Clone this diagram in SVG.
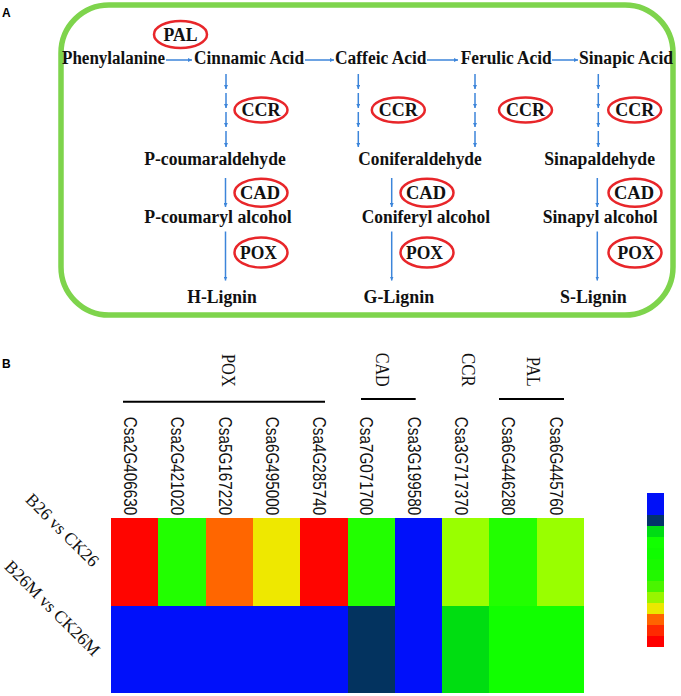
<svg xmlns="http://www.w3.org/2000/svg" width="681" height="696" viewBox="0 0 681 696">
<defs>
<marker id="ah" viewBox="0 0 6 6" refX="6" refY="3" markerWidth="4" markerHeight="4" markerUnits="userSpaceOnUse" orient="auto">
<path d="M0,0 L6,3 L0,6 z" fill="#3C85DA"/>
</marker>
<style>
.t{font-family:"Liberation Serif","Times New Roman",serif;font-weight:bold;font-size:18.5px;fill:#111}
.m{text-anchor:middle}
.e{fill:none;stroke:#E8262A;stroke-width:2.5}
.a{stroke:#3C85DA;stroke-width:1.5;fill:none;marker-end:url(#ah)}
.lab{font-family:"Liberation Sans",Arial,sans-serif;font-weight:bold;font-size:12px;fill:#000}
.gene{font-family:"Liberation Sans",Arial,sans-serif;font-size:18px;fill:#111}
.grp{font-family:"Liberation Serif","Times New Roman",serif;font-size:18.5px;fill:#111;text-anchor:end}
.row{font-family:"Liberation Serif","Times New Roman",serif;font-size:17.5px;fill:#111;text-anchor:end}
.gl{stroke:#000;stroke-width:2}
</style>
</defs>
<rect width="681" height="696" fill="#fff"/>

<!-- Panel A -->
<text class="lab" x="2" y="17">A</text>
<rect x="61" y="5" width="612" height="310" rx="48" ry="48" fill="none" stroke="#7ED44C" stroke-width="5.5"/>

<g id="connectors-A">
<line class="a" x1="166" y1="60" x2="192" y2="60"/>
<line class="a" x1="305" y1="60" x2="334" y2="60"/>
<line class="a" x1="427" y1="60" x2="458" y2="60"/>
<line class="a" x1="552" y1="60" x2="578" y2="60"/>
<g id="ccr-arrows">
<line class="a" x1="226" y1="74" x2="226" y2="89"/><line class="a" x1="226" y1="93" x2="226" y2="108"/><line class="a" x1="226" y1="112" x2="226" y2="127"/><line class="a" x1="226" y1="131" x2="226" y2="147"/>
<line class="a" x1="358.3" y1="74" x2="358.3" y2="89"/><line class="a" x1="358.3" y1="93" x2="358.3" y2="108"/><line class="a" x1="358.3" y1="112" x2="358.3" y2="127"/><line class="a" x1="358.3" y1="131" x2="358.3" y2="147"/>
<line class="a" x1="475" y1="74" x2="475" y2="89"/><line class="a" x1="475" y1="93" x2="475" y2="108"/><line class="a" x1="475" y1="112" x2="475" y2="127"/><line class="a" x1="475" y1="131" x2="475" y2="147"/>
<line class="a" x1="598.3" y1="74" x2="598.3" y2="89"/><line class="a" x1="598.3" y1="93" x2="598.3" y2="108"/><line class="a" x1="598.3" y1="112" x2="598.3" y2="127"/><line class="a" x1="598.3" y1="131" x2="598.3" y2="147"/>
</g>
<line class="a" x1="225.5" y1="178" x2="225.5" y2="207"/>
<line class="a" x1="391.7" y1="178" x2="391.7" y2="207"/>
<line class="a" x1="597.3" y1="178" x2="597.3" y2="207"/>
<line class="a" x1="225.5" y1="231.5" x2="225.5" y2="280.5"/>
<line class="a" x1="391.7" y1="231.5" x2="391.7" y2="280.5"/>
<line class="a" x1="597.3" y1="231.5" x2="597.3" y2="280.5"/>
</g>

<g id="n-phenylalanine"><text class="t" x="62" y="64" textLength="103" lengthAdjust="spacingAndGlyphs">Phenylalanine</text></g>
<g id="n-cinnamic"><text class="t" x="194" y="64" textLength="110" lengthAdjust="spacingAndGlyphs">Cinnamic Acid</text></g>
<g id="n-caffeic"><text class="t" x="335" y="64" textLength="91.5" lengthAdjust="spacingAndGlyphs">Caffeic Acid</text></g>
<g id="n-ferulic"><text class="t" x="460.7" y="64" textLength="91" lengthAdjust="spacingAndGlyphs">Ferulic Acid</text></g>
<g id="n-sinapic"><text class="t" x="579" y="64" textLength="94" lengthAdjust="spacingAndGlyphs">Sinapic Acid</text></g>

<g id="n-pcoumaraldehyde"><text class="t" x="144.3" y="164.5" textLength="141.4" lengthAdjust="spacingAndGlyphs">P-coumaraldehyde</text></g>
<g id="n-coniferaldehyde"><text class="t" x="358.3" y="164.5" textLength="123.4" lengthAdjust="spacingAndGlyphs">Coniferaldehyde</text></g>
<g id="n-sinapaldehyde"><text class="t" x="544.3" y="164.5" textLength="110.7" lengthAdjust="spacingAndGlyphs">Sinapaldehyde</text></g>

<g id="n-pcoumarylalcohol"><text class="t" x="144.3" y="223.3" textLength="147.4" lengthAdjust="spacingAndGlyphs">P-coumaryl alcohol</text></g>
<g id="n-coniferylalcohol"><text class="t" x="361.7" y="223.3" textLength="128.3" lengthAdjust="spacingAndGlyphs">Coniferyl alcohol</text></g>
<g id="n-sinapylalcohol"><text class="t" x="542.7" y="223.3" textLength="115" lengthAdjust="spacingAndGlyphs">Sinapyl alcohol</text></g>

<g id="n-hlignin"><text class="t" x="187.3" y="302.7" textLength="69.4" lengthAdjust="spacingAndGlyphs">H-Lignin</text></g>
<g id="n-glignin"><text class="t" x="363.5" y="302.7" textLength="70.6" lengthAdjust="spacingAndGlyphs">G-Lignin</text></g>
<g id="n-slignin"><text class="t" x="560" y="302.7" textLength="66.7" lengthAdjust="spacingAndGlyphs">S-Lignin</text></g>

<g id="enz-pal"><ellipse class="e" cx="180.5" cy="34.5" rx="26.5" ry="13.5"/><text class="t m" x="180.5" y="40.7" textLength="34" lengthAdjust="spacingAndGlyphs">PAL</text></g>
<g id="enz-ccr1"><ellipse class="e" cx="261" cy="110" rx="26.5" ry="12.5"/><text class="t m" x="261" y="116.2" textLength="39" lengthAdjust="spacingAndGlyphs">CCR</text></g>
<g id="enz-ccr2"><ellipse class="e" cx="398.3" cy="110" rx="26.5" ry="12.5"/><text class="t m" x="398.3" y="116.2" textLength="39" lengthAdjust="spacingAndGlyphs">CCR</text></g>
<g id="enz-ccr3"><ellipse class="e" cx="525.5" cy="110" rx="26.5" ry="12.5"/><text class="t m" x="525.5" y="116.2" textLength="39" lengthAdjust="spacingAndGlyphs">CCR</text></g>
<g id="enz-ccr4"><ellipse class="e" cx="634.7" cy="110" rx="26.5" ry="12.5"/><text class="t m" x="634.7" y="116.2" textLength="39" lengthAdjust="spacingAndGlyphs">CCR</text></g>
<g id="enz-cad1"><ellipse class="e" cx="261" cy="192.7" rx="26.5" ry="14"/><text class="t m" x="260" y="198.9" textLength="40" lengthAdjust="spacingAndGlyphs">CAD</text></g>
<g id="enz-cad2"><ellipse class="e" cx="427" cy="192.7" rx="26.5" ry="14"/><text class="t m" x="426" y="198.9" textLength="40" lengthAdjust="spacingAndGlyphs">CAD</text></g>
<g id="enz-cad3"><ellipse class="e" cx="635" cy="192.7" rx="26.5" ry="14"/><text class="t m" x="634" y="198.9" textLength="40" lengthAdjust="spacingAndGlyphs">CAD</text></g>
<g id="enz-pox1"><ellipse class="e" cx="261" cy="252.5" rx="26.5" ry="15"/><text class="t m" x="258.5" y="258.7" textLength="37" lengthAdjust="spacingAndGlyphs">POX</text></g>
<g id="enz-pox2"><ellipse class="e" cx="427" cy="252.5" rx="26.5" ry="15"/><text class="t m" x="424.5" y="258.7" textLength="37" lengthAdjust="spacingAndGlyphs">POX</text></g>
<g id="enz-pox3"><ellipse class="e" cx="635" cy="252.5" rx="26.5" ry="15"/><text class="t m" x="636" y="258.7" textLength="37" lengthAdjust="spacingAndGlyphs">POX</text></g>

<!-- Panel B -->
<text class="lab" x="2" y="368">B</text>

<g id="group-labels">
<text class="grp" transform="translate(222.2,386.7) rotate(90)" textLength="32.7" lengthAdjust="spacingAndGlyphs">POX</text>
<text class="grp" transform="translate(375.5,386.7) rotate(90)" textLength="34" lengthAdjust="spacingAndGlyphs">CAD</text>
<text class="grp" transform="translate(461.5,386.7) rotate(90)" textLength="33.7" lengthAdjust="spacingAndGlyphs">CCR</text>
<text class="grp" transform="translate(527,386.7) rotate(90)" textLength="30" lengthAdjust="spacingAndGlyphs">PAL</text>
<line class="gl" x1="123" y1="401.7" x2="325" y2="401.7"/>
<line class="gl" x1="361" y1="399" x2="415.7" y2="399"/>
<line class="gl" x1="499" y1="399" x2="564" y2="399"/>
</g>

<g id="gene-labels">
<text class="gene" transform="translate(123.9,416.8) rotate(90)" textLength="98.5" lengthAdjust="spacingAndGlyphs">Csa2G406630</text>
<text class="gene" transform="translate(171.2,416.8) rotate(90)" textLength="98.5" lengthAdjust="spacingAndGlyphs">Csa2G421020</text>
<text class="gene" transform="translate(218.5,416.8) rotate(90)" textLength="98.5" lengthAdjust="spacingAndGlyphs">Csa5G167220</text>
<text class="gene" transform="translate(265.8,416.8) rotate(90)" textLength="98.5" lengthAdjust="spacingAndGlyphs">Csa6G495000</text>
<text class="gene" transform="translate(313.1,416.8) rotate(90)" textLength="98.5" lengthAdjust="spacingAndGlyphs">Csa4G285740</text>
<text class="gene" transform="translate(360.4,416.8) rotate(90)" textLength="98.5" lengthAdjust="spacingAndGlyphs">Csa7G071700</text>
<text class="gene" transform="translate(407.7,416.8) rotate(90)" textLength="98.5" lengthAdjust="spacingAndGlyphs">Csa3G199580</text>
<text class="gene" transform="translate(455,416.8) rotate(90)" textLength="98.5" lengthAdjust="spacingAndGlyphs">Csa3G717370</text>
<text class="gene" transform="translate(502.3,416.8) rotate(90)" textLength="98.5" lengthAdjust="spacingAndGlyphs">Csa6G446280</text>
<text class="gene" transform="translate(549.6,416.8) rotate(90)" textLength="98.5" lengthAdjust="spacingAndGlyphs">Csa6G445760</text>
</g>

<g id="row-labels">
<text class="row" transform="translate(92,568) rotate(45)">B26 vs CK26</text>
<text class="row" transform="translate(93,657) rotate(45)">B26M vs CK26M</text>
</g>

<g id="heatmap" shape-rendering="crispEdges">
<rect x="111" y="518.3" width="47.4" height="87.2" fill="#FF0500"/>
<rect x="158.3" y="518.3" width="47.4" height="87.2" fill="#22FF00"/>
<rect x="205.6" y="518.3" width="47.4" height="87.2" fill="#FF6600"/>
<rect x="252.9" y="518.3" width="47.4" height="87.2" fill="#EEE800"/>
<rect x="300.2" y="518.3" width="47.4" height="87.2" fill="#FF0500"/>
<rect x="347.5" y="518.3" width="47.4" height="87.2" fill="#22FF00"/>
<rect x="394.8" y="518.3" width="47.4" height="87.2" fill="#0010FA"/>
<rect x="442.1" y="518.3" width="47.4" height="87.2" fill="#99FF00"/>
<rect x="489.4" y="518.3" width="47.4" height="87.2" fill="#22FF00"/>
<rect x="536.7" y="518.3" width="47.3" height="87.2" fill="#99FF00"/>
<rect x="111" y="605.5" width="236.5" height="87.5" fill="#0010FA"/>
<rect x="347.5" y="605.5" width="47.4" height="87.5" fill="#03335F"/>
<rect x="394.8" y="605.5" width="47.4" height="87.5" fill="#0010FA"/>
<rect x="442.1" y="605.5" width="47.4" height="87.5" fill="#00DD11"/>
<rect x="489.4" y="605.5" width="47.4" height="87.5" fill="#11FF00"/>
<rect x="536.7" y="605.5" width="47.3" height="87.5" fill="#11FF00"/>
</g>

<g id="legend" shape-rendering="crispEdges">
<rect x="647.3" y="493.3" width="17" height="22" fill="#0010F8"/>
<rect x="647.3" y="515.3" width="17" height="11" fill="#03336A"/>
<rect x="647.3" y="526.3" width="17" height="11" fill="#00DC14"/>
<rect x="647.3" y="537.3" width="17" height="11" fill="#12FF00"/>
<rect x="647.3" y="548.3" width="17" height="11" fill="#10FC00"/>
<rect x="647.3" y="559.3" width="17" height="11" fill="#18FA00"/>
<rect x="647.3" y="570.3" width="17" height="11" fill="#22F800"/>
<rect x="647.3" y="581.3" width="17" height="11" fill="#4AF500"/>
<rect x="647.3" y="592.3" width="17" height="11" fill="#98F500"/>
<rect x="647.3" y="603.3" width="17" height="11" fill="#EAE800"/>
<rect x="647.3" y="614.3" width="17" height="11" fill="#FF6400"/>
<rect x="647.3" y="625.3" width="17" height="11" fill="#FF2A00"/>
<rect x="647.3" y="636.3" width="17" height="11" fill="#FF0000"/>
</g>
</svg>
